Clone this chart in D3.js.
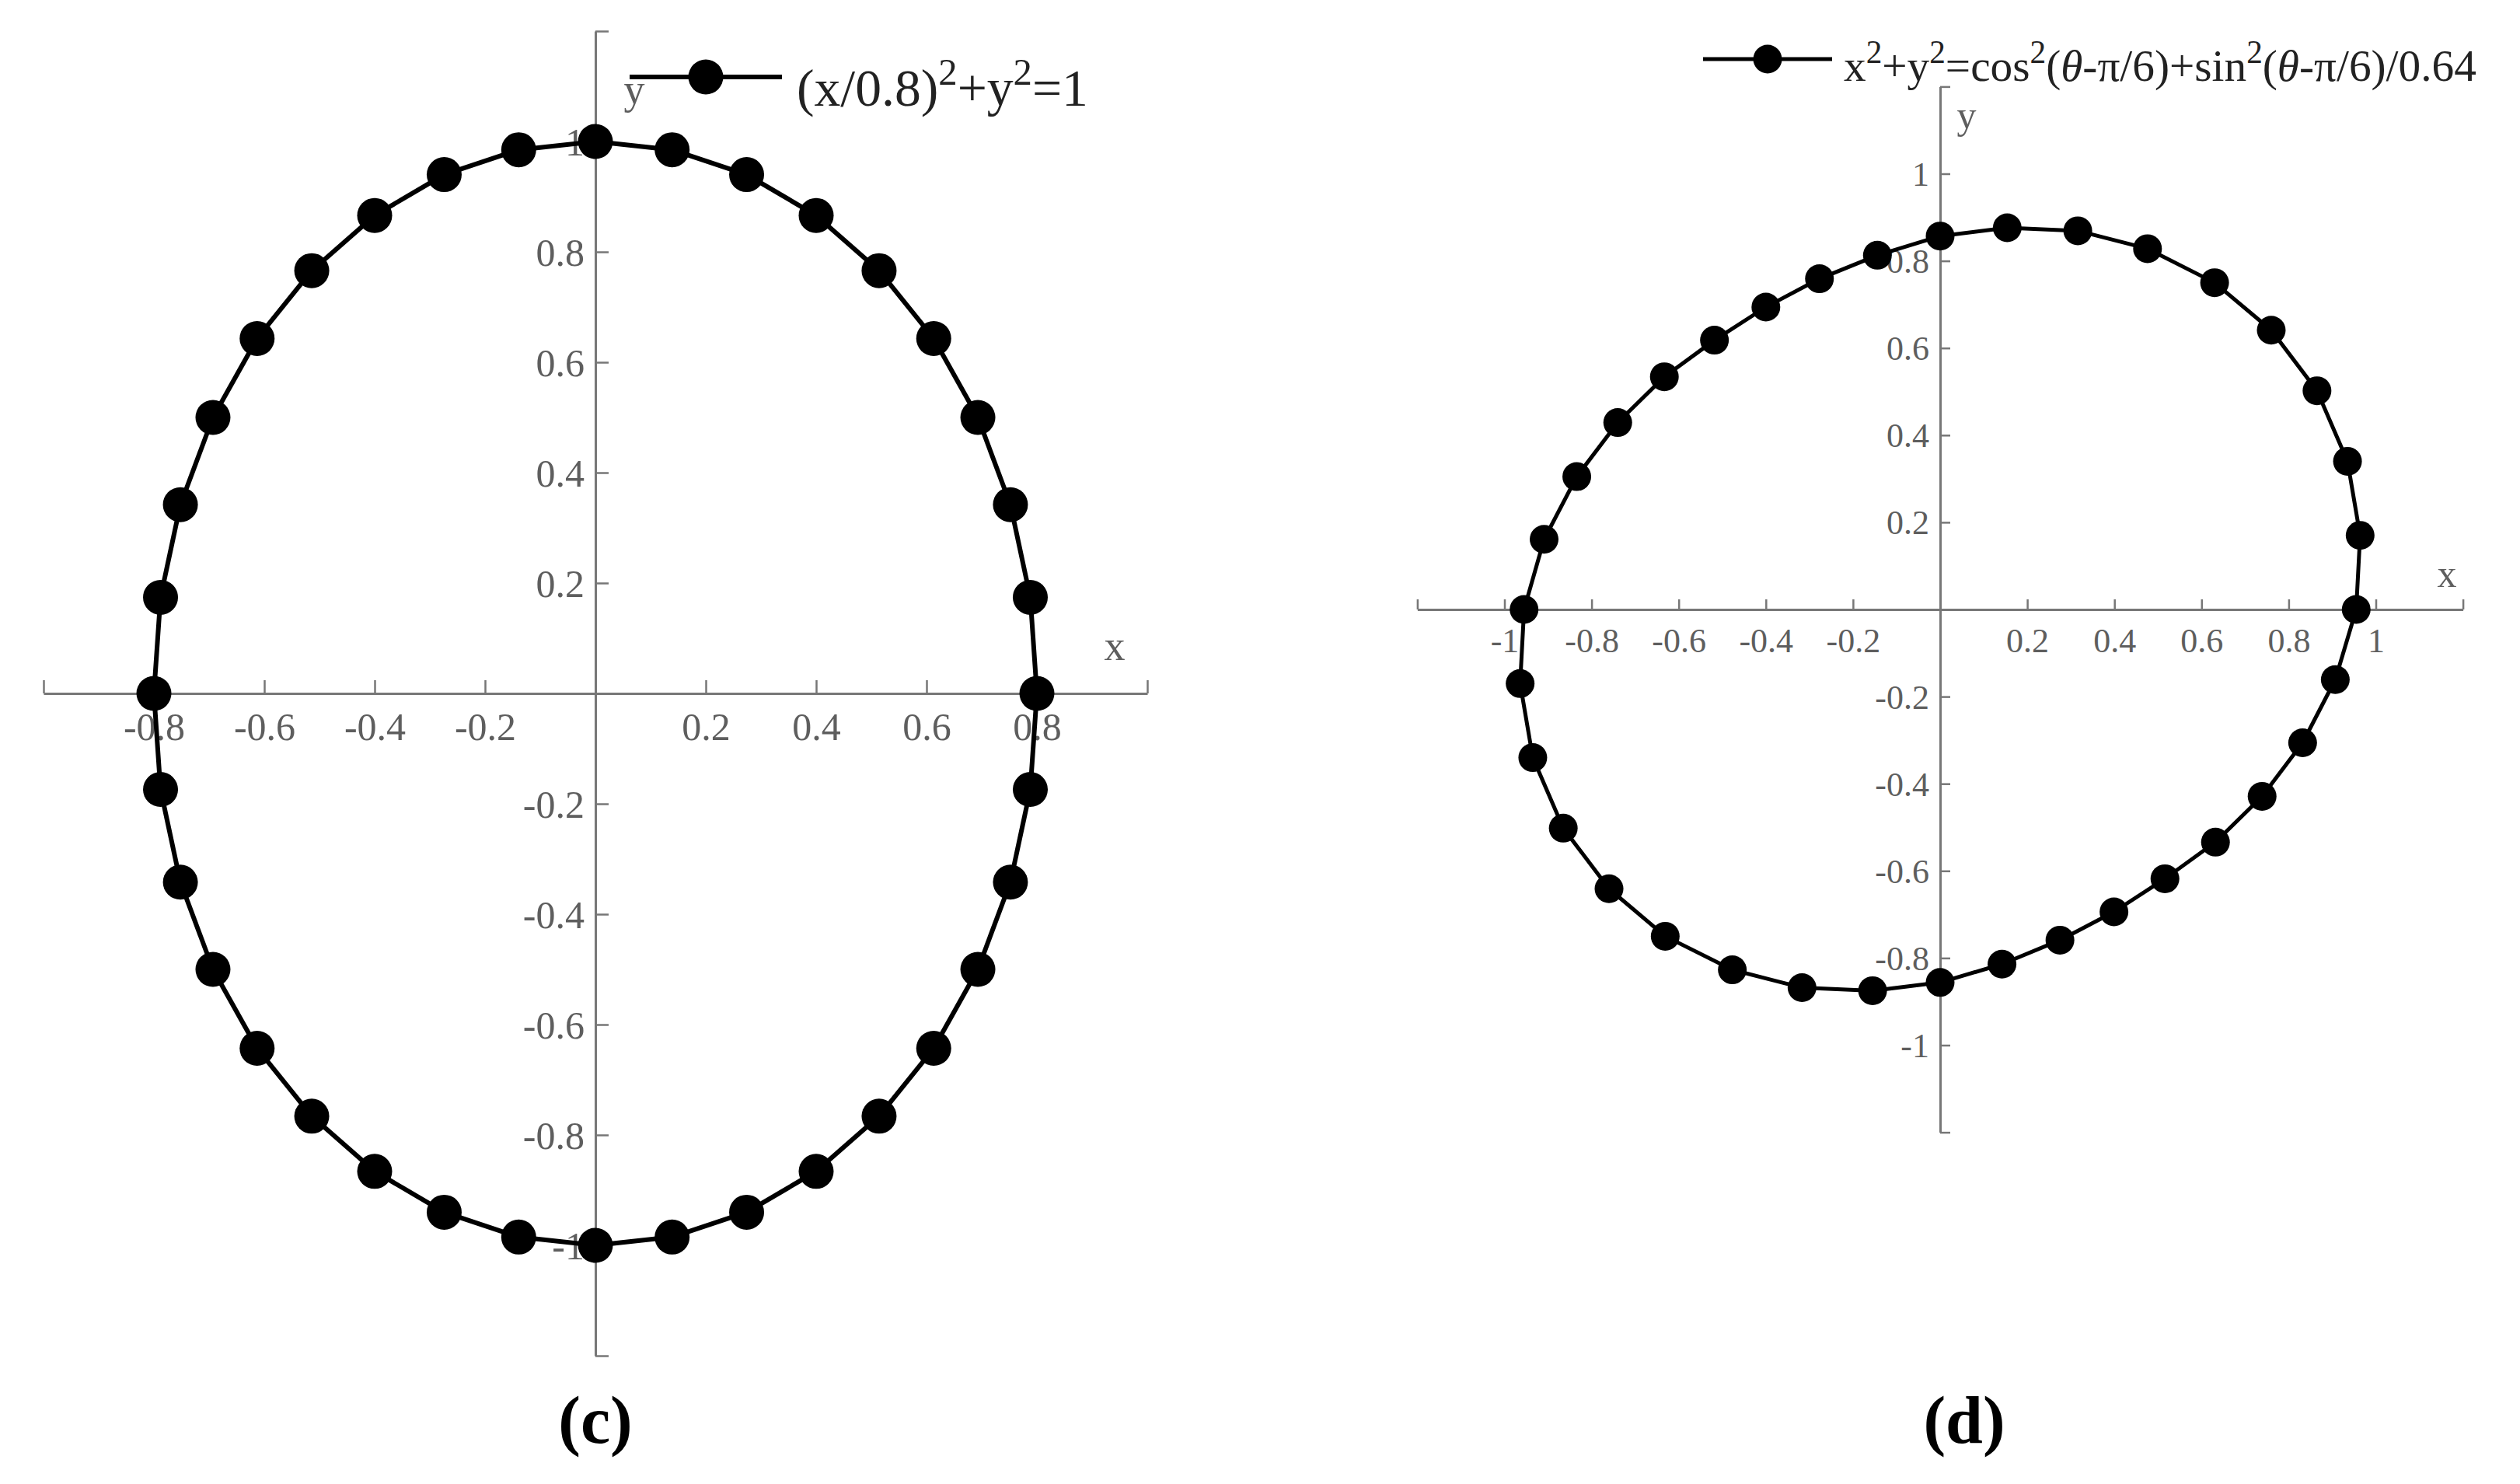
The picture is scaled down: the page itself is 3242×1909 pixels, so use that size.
<!DOCTYPE html>
<html><head><meta charset="utf-8">
<script src="https://cdn.jsdelivr.net/npm/d3@7"></script>
<style>body{margin:0;background:#fff}svg{display:block}</style>
</head><body>
<svg id="chart" width="3242" height="1909"></svg>
<script>
// ---- data: panel (c) ----
const cX = [0.80, 0.788, 0.752, 0.693, 0.613, 0.514, 0.400, 0.274, 0.139, 0.0,
  -0.139, -0.274, -0.400, -0.514, -0.613, -0.693, -0.752, -0.788, -0.80,
  -0.788, -0.752, -0.693, -0.613, -0.514, -0.400, -0.274, -0.139, 0.0,
  0.139, 0.274, 0.400, 0.514, 0.613, 0.693, 0.752, 0.788];
const cY = [0.0, 0.174, 0.342, 0.500, 0.643, 0.766, 0.866, 0.940, 0.985, 1.0,
  0.985, 0.940, 0.866, 0.766, 0.643, 0.500, 0.342, 0.174, 0.0,
  -0.174, -0.342, -0.500, -0.643, -0.766, -0.866, -0.940, -0.985, -1.0,
  -0.985, -0.940, -0.866, -0.766, -0.643, -0.500, -0.342, -0.174];
// ---- data: panel (d) ----
const dX = [0.955, 0.964, 0.935, 0.865, 0.760, 0.630, 0.476, 0.316, 0.154, 0.0,
  -0.144, -0.277, -0.400, -0.518, -0.633, -0.740, -0.834, -0.909, -0.955,
  -0.964, -0.935, -0.865, -0.760, -0.631, -0.477, -0.317, -0.155, 0.0,
  0.142, 0.275, 0.399, 0.516, 0.632, 0.739, 0.832, 0.907];
const dY = [0.0, 0.170, 0.340, 0.502, 0.641, 0.750, 0.828, 0.869, 0.876, 0.857,
  0.813, 0.759, 0.694, 0.618, 0.534, 0.429, 0.305, 0.161, 0.0,
  -0.170, -0.340, -0.502, -0.641, -0.750, -0.827, -0.868, -0.875, -0.856,
  -0.814, -0.759, -0.694, -0.618, -0.534, -0.429, -0.306, -0.161];

// ---- ticks ----
const cXTicks = [-1, -0.8, -0.6, -0.4, -0.2, 0.2, 0.4, 0.6, 0.8, 1];
const cXTickLabels = ["", "-0.8", "-0.6", "-0.4", "-0.2", "0.2", "0.4", "0.6", "0.8", ""];
const cYTicks = [-1.2, -1, -0.8, -0.6, -0.4, -0.2, 0.2, 0.4, 0.6, 0.8, 1, 1.2];
const cYTickLabels = ["", "-1", "-0.8", "-0.6", "-0.4", "-0.2", "0.2", "0.4", "0.6", "0.8", "1", ""];
const dXTicks = [-1.2, -1, -0.8, -0.6, -0.4, -0.2, 0.2, 0.4, 0.6, 0.8, 1, 1.2];
const dXTickLabels = ["", "-1", "-0.8", "-0.6", "-0.4", "-0.2", "0.2", "0.4", "0.6", "0.8", "1", ""];
const dYTicks = [-1.2, -1, -0.8, -0.6, -0.4, -0.2, 0.2, 0.4, 0.6, 0.8, 1, 1.2];
const dYTickLabels = ["", "-1", "-0.8", "-0.6", "-0.4", "-0.2", "0.2", "0.4", "0.6", "0.8", "1", ""];

const svg = d3.select("#chart");
const FONT = "'Liberation Serif', 'Times New Roman', serif";
const AXIS_COLOR = "#777";
const LABEL_COLOR = "#5e5e5e";

function panel(opts) {
  const g = svg.append("g");
  const x = d3.scaleLinear().domain(opts.xDomain).range(opts.xRange);
  const y = d3.scaleLinear().domain(opts.yDomain).range(opts.yRange);

  const xAxis = d3.axisBottom(x)
    .tickValues(opts.xTicks)
    .tickFormat((d, i) => opts.xTickLabels[i])
    .tickSizeInner(-opts.tick).tickSizeOuter(0).tickPadding(opts.xPad);
  const gx = g.append("g").attr("transform", `translate(0,${y(0)})`).call(xAxis);

  const yAxis = d3.axisLeft(y)
    .tickValues(opts.yTicks)
    .tickFormat((d, i) => opts.yTickLabels[i])
    .tickSizeInner(-opts.tick).tickSizeOuter(0).tickPadding(opts.yPad);
  const gy = g.append("g").attr("transform", `translate(${x(0)},0)`).call(yAxis);

  [gx, gy].forEach(a => {
    a.attr("font-family", FONT).attr("font-size", opts.tickFont);
    a.select(".domain").attr("stroke", AXIS_COLOR).attr("stroke-width", 3);
    a.selectAll(".tick line").attr("stroke", AXIS_COLOR).attr("stroke-width", 2.5);
    a.selectAll(".tick text").attr("fill", LABEL_COLOR);
  });
  gy.selectAll(".tick text").attr("dy", "0.34em");

  // axis name labels
  g.append("text").attr("x", opts.xLabelPos[0]).attr("y", opts.xLabelPos[1])
    .attr("text-anchor", "middle").attr("font-family", FONT).attr("font-size", opts.nameFont)
    .attr("fill", LABEL_COLOR).text("x");
  g.append("text").attr("x", opts.yLabelPos[0]).attr("y", opts.yLabelPos[1])
    .attr("text-anchor", "middle").attr("font-family", FONT).attr("font-size", opts.nameFont)
    .attr("fill", LABEL_COLOR).text("y");

  // data
  const pts = opts.xs.map((v, i) => [v, opts.ys[i]]);
  g.append("path").datum(pts)
    .attr("d", d3.line().x(d => x(d[0])).y(d => y(d[1])).curve(d3.curveLinearClosed))
    .attr("fill", "none").attr("stroke", "#000").attr("stroke-width", opts.lw)
    .attr("stroke-linejoin", "round");
  g.selectAll("circle.m").data(pts).join("circle").attr("class", "m")
    .attr("cx", d => x(d[0])).attr("cy", d => y(d[1])).attr("r", opts.r).attr("fill", "#000");

  // legend
  const L = opts.legend;
  g.append("line").attr("x1", L.x1).attr("x2", L.x2).attr("y1", L.y).attr("y2", L.y)
    .attr("stroke", "#000").attr("stroke-width", opts.lw);
  g.append("circle").attr("cx", (L.x1 + L.x2) / 2).attr("cy", L.y).attr("r", opts.r).attr("fill", "#000");
  const t = g.append("text").attr("x", L.tx).attr("y", L.ty)
    .attr("font-family", FONT).attr("font-size", L.font).attr("fill", "#222");
  L.parts.forEach(p => {
    const s = t.append("tspan").text(p.t);
    if (p.sup) s.attr("font-size", L.font * 0.72).attr("baseline-shift", "super");
    if (p.it) s.attr("font-style", "italic");
  });
  // fit the legend text to the width it has in the reference
  const natural = t.node().getComputedTextLength();
  const f = L.font * L.len / natural;
  t.attr("font-size", f);
  t.selectAll("tspan").each(function () {
    if (d3.select(this).attr("font-size")) d3.select(this).attr("font-size", f * 0.72);
  });

  // panel label
  svg.append("text").attr("x", opts.panelPos[0]).attr("y", opts.panelPos[1])
    .attr("text-anchor", "middle").attr("font-family", FONT).attr("font-weight", "bold")
    .attr("font-size", 86).attr("fill", "#000").text(opts.panelLabel);
}

panel({
  xDomain: [-1, 1], xRange: [56, 1476],
  yDomain: [-1.2, 1.2], yRange: [1744, 40],
  xTicks: cXTicks, xTickLabels: cXTickLabels,
  yTicks: cYTicks, yTickLabels: cYTickLabels,
  tick: 17, xPad: 24, yPad: 14, tickFont: 50, nameFont: 54,
  xLabelPos: [1434, 849], yLabelPos: [816, 133],
  xs: cX, ys: cY, lw: 6, r: 22.5,
  legend: { x1: 810, x2: 1006, y: 99, tx: 1025, ty: 136, font: 58, len: 375,
    parts: [{t: "(x/0.8)"}, {t: "2", sup: true}, {t: "+y"}, {t: "2", sup: true}, {t: "=1"}] },
  panelPos: [766, 1856], panelLabel: "(c)"
});

panel({
  xDomain: [-1.2, 1.2], xRange: [1823.4, 3168.6],
  yDomain: [-1.2, 1.2], yRange: [1456.6, 111.4],
  xTicks: dXTicks, xTickLabels: dXTickLabels,
  yTicks: dYTicks, yTickLabels: dYTickLabels,
  tick: 13, xPad: 24, yPad: 14, tickFont: 44, nameFont: 50,
  xLabelPos: [3148, 755], yLabelPos: [2530, 165],
  xs: dX, ys: dY, lw: 5, r: 18.5,
  legend: { x1: 2191, x2: 2357, y: 76, tx: 2372, ty: 104, font: 48, len: 814,
    parts: [{t: "x"}, {t: "2", sup: true}, {t: "+y"}, {t: "2", sup: true}, {t: "=cos"}, {t: "2", sup: true},
      {t: "("}, {t: "θ", it: true}, {t: "-π/6)+sin"}, {t: "2", sup: true}, {t: "("}, {t: "θ", it: true}, {t: "-π/6)/0.64"}] },
  panelPos: [2527, 1856], panelLabel: "(d)"
});
</script>
</body></html>
